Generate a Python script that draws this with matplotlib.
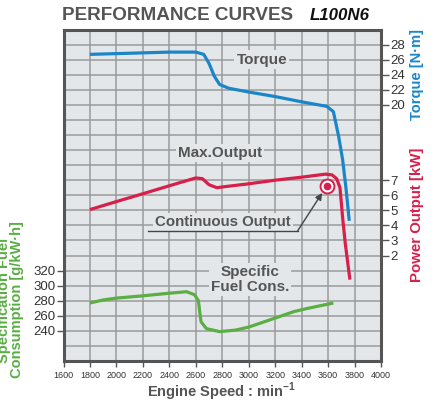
import matplotlib
matplotlib.use("Agg")
import matplotlib.pyplot as plt
import numpy as np

plt.rcParams['font.family'] = ['Liberation Sans', 'DejaVu Sans']

# ---- data ----
torque_speed = [1800, 2000, 2200, 2400, 2600, 2660, 2700, 2740, 2780, 2850,
                3000, 3200, 3400, 3590, 3640, 3680, 3710, 3735, 3760]
torque_nm = [26.7, 26.8, 26.9, 27.0, 27.0, 26.7, 25.5, 23.8, 22.7, 22.2,
             21.7, 21.1, 20.4, 19.8, 19.1, 15.8, 12.7, 9.0, 4.6]

power_speed = [1800, 2000, 2200, 2400, 2600, 2650, 2700, 2760, 2800, 3000,
               3200, 3400, 3580, 3630, 3665, 3690, 3710, 3730, 3765]
power_kw = [5.05, 5.58, 6.1, 6.63, 7.15, 7.1, 6.7, 6.5, 6.55, 6.76,
            7.0, 7.2, 7.4, 7.35, 7.1, 6.5, 4.5, 2.8, 0.4]

fuel_speed = [1800, 1900, 2000, 2200, 2400, 2530, 2590, 2620, 2630, 2640,
              2680, 2780, 2900, 3000, 3200, 3340, 3450, 3640]
fuel_gkwh = [277, 281, 283.5, 286.5, 290, 292, 288, 280, 265, 252,
             243, 239, 241, 245, 257, 265.5, 270, 277]

cont_speed = 3590
cont_power = 6.63

x_ticks = list(range(1600, 4001, 200))
torque_ticks = [20, 22, 24, 26, 28]
power_ticks = [2, 3, 4, 5, 6, 7]
fuel_ticks = [240, 260, 280, 300, 320]

# ---- styles ----
BLUE = '#1a86c8'
RED = '#d81f4a'
GREEN = '#5aae44'
GRAY = '#555555'
BG = '#e3e7ea'
GRID = '#9b9b9b'

fig = plt.figure(figsize=(4.37, 4.05), dpi=100)
ax = fig.add_axes([63.5/437, 1-361/405, (381-63.5)/437, (361-29.5)/405])
ax.set_facecolor(BG)
ax.set_xlim(1600, 4000)
ax.set_ylim(200, 640)
ax.set_xticks(x_ticks)
ax.set_xticklabels([str(t) for t in x_ticks], fontsize=6.5, color='#333333')
ax.set_yticks(fuel_ticks)
ax.set_yticklabels([str(t) for t in fuel_ticks], fontsize=9.5, color='#333333')
ax.tick_params(axis='both', which='major', color=GRAY, width=1.0)
ax.tick_params(axis='x', length=4, pad=3)
ax.tick_params(axis='y', length=5, pad=1)
ax.grid(False)
# background grid: one row per 20 g/kWh, one column per 200 min^-1
for yv in np.arange(220, 640, 20):
    ax.axhline(yv, color=GRID, lw=1.1, zorder=0.5)
for xv in x_ticks[1:-1]:
    ax.axvline(xv, color=GRID, lw=1.1, zorder=0.5)
for s in ax.spines.values():
    s.set_color(GRAY)
    s.set_linewidth(2.2)

ax.plot(fuel_speed, fuel_gkwh, color=GREEN, lw=2.3, solid_capstyle='butt', zorder=3)

# power axis
ax_p = ax.twinx()
ax_p.set_ylim(-5, 17)
ax_p.set_yticks(power_ticks)
ax_p.set_yticklabels([str(t) for t in power_ticks], fontsize=9.5, color='#333333')
ax_p.tick_params(axis='y', length=6, color=GRAY, width=1.0, pad=1)
for s in ax_p.spines.values():
    s.set_visible(False)
ax_p.plot(power_speed, power_kw, color=RED, lw=2.3, solid_capstyle='butt', zorder=3)
ax_p.plot([cont_speed], [cont_power], 'o', ms=10, mfc='white', mec=RED, mew=1.4, zorder=5)
ax_p.plot([cont_speed], [cont_power], 'o', ms=4.5, mfc=RED, mec=RED, zorder=6)

# torque axis
ax_t = ax.twinx()
ax_t.set_ylim(-14, 30)
ax_t.set_yticks(torque_ticks)
ax_t.set_yticklabels([str(t) for t in torque_ticks], fontsize=9.5, color='#333333')
ax_t.tick_params(axis='y', length=6, color=GRAY, width=1.0, pad=1)
for s in ax_t.spines.values():
    s.set_visible(False)
ax_t.plot(torque_speed, torque_nm, color=BLUE, lw=2.3, solid_capstyle='butt', zorder=4)

# in-plot labels
box = dict(facecolor=BG, edgecolor='none', pad=1.5)
ax.text(3100, 600, 'Torque', fontsize=11, fontweight='bold', color=GRAY,
        ha='center', va='center', bbox=box, zorder=2)
ax.text(2785, 476, 'Max.Output', fontsize=11, fontweight='bold', color=GRAY,
        ha='center', va='center', bbox=box, zorder=2)
ax.text(2805, 385, 'Continuous Output', fontsize=10.8, fontweight='bold', color=GRAY,
        ha='center', va='center', bbox=box, zorder=2)
ax.text(3010, 308, 'Specific\nFuel Cons.', fontsize=11, fontweight='bold', color=GRAY,
        ha='center', va='center', bbox=box, zorder=2, linespacing=1.1)

# leader line + arrow for continuous output
lead_x = [2240, 3370]
lead_y = [3.64, 3.64]
ax_p.plot(lead_x, lead_y, color='#444444', lw=1.0, zorder=3)
ax_p.annotate('', xy=(3555, 6.15), xytext=(3370, 3.64),
              arrowprops=dict(arrowstyle='-|>', color='#444444', lw=1.0,
                              mutation_scale=10, shrinkA=0, shrinkB=0), zorder=3)

# titles and axis labels
fig.text(62/437, 1-20/405, 'PERFORMANCE CURVES', fontsize=13.6, fontweight='bold',
         color=GRAY, ha='left', va='baseline')
fig.text(310/437, 1-20/405, 'L100N6', fontsize=12.2, fontweight='bold', style='italic',
         color='#111111', ha='left', va='baseline')
fig.text(222/437, 1-392/405, r'Engine Speed : min$^{\mathregular{-1}}$', fontsize=10.5,
         fontweight='bold', color=GRAY, ha='center', va='center')
fig.text(417/437, 1-74/405, 'Torque [N·m]', fontsize=10.5, fontweight='bold',
         color=BLUE, rotation=90, ha='center', va='center')
fig.text(417/437, 1-215/405, 'Power Output [kW]', fontsize=10.8, fontweight='bold',
         color=RED, rotation=90, ha='center', va='center')
fig.text(4/437, 1-300/405, 'Specification Fuel', fontsize=10.5, fontweight='bold',
         color=GREEN, rotation=90, ha='center', va='center')
fig.text(17.5/437, 1-300/405, 'Consumption [g/kW·h]', fontsize=10.5, fontweight='bold',
         color=GREEN, rotation=90, ha='center', va='center')

fig.savefig('out.png', dpi=100)
